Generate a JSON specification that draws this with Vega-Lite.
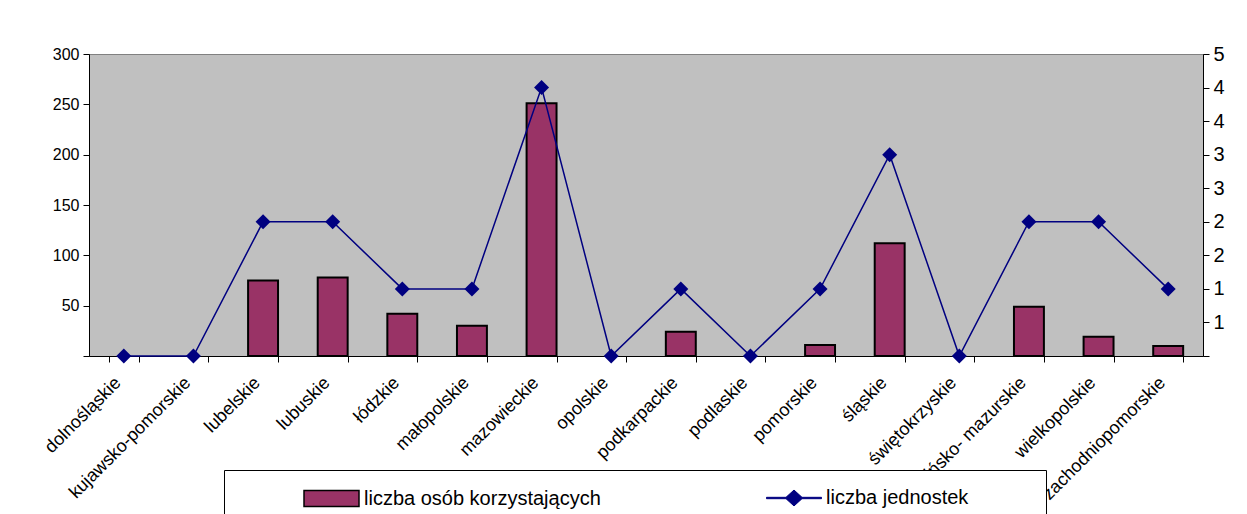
{
  "$schema": "https://vega.github.io/schema/vega-lite/v6.json",
  "width": 1114,
  "height": 302,
  "autosize": {"type": "none"},
  "padding": {"left": 89, "top": 54, "right": 44, "bottom": 158},
  "background": "white",
  "config": {
    "font": "Liberation Sans",
    "view": {"fill": "#c0c0c0", "stroke": "#808080", "strokeWidth": 1}
  },
  "data": {
    "values": [
      {"region": "dolnośląskie", "osoby": 0, "jednostki": 0},
      {"region": "kujawsko-pomorskie", "osoby": 0, "jednostki": 0},
      {"region": "lubelskie", "osoby": 75, "jednostki": 2},
      {"region": "lubuskie", "osoby": 78, "jednostki": 2},
      {"region": "łódzkie", "osoby": 42, "jednostki": 1},
      {"region": "małopolskie", "osoby": 30, "jednostki": 1},
      {"region": "mazowieckie", "osoby": 251, "jednostki": 4},
      {"region": "opolskie", "osoby": 0, "jednostki": 0},
      {"region": "podkarpackie", "osoby": 24, "jednostki": 1},
      {"region": "podlaskie", "osoby": 0, "jednostki": 0},
      {"region": "pomorskie", "osoby": 11, "jednostki": 1},
      {"region": "śląskie", "osoby": 112, "jednostki": 3},
      {"region": "świętokrzyskie", "osoby": 0, "jednostki": 0},
      {"region": "warmińsko- mazurskie", "osoby": 49, "jednostki": 2},
      {"region": "wielkopolskie", "osoby": 19, "jednostki": 2},
      {"region": "zachodniopomorskie", "osoby": 10, "jednostki": 1}
    ]
  },
  "encoding": {
    "x": {
      "field": "region",
      "type": "nominal",
      "sort": null,
      "scale": {
        "domain": ["dolnośląskie", "kujawsko-pomorskie", "lubelskie", "lubuskie", "łódzkie", "małopolskie", "mazowieckie", "opolskie", "podkarpackie", "podlaskie", "pomorskie", "śląskie", "świętokrzyskie", "warmińsko- mazurskie", "wielkopolskie", "zachodniopomorskie"],
        "paddingInner": 0.57,
        "paddingOuter": 0.285
      },
      "axis": {
        "title": null,
        "labelAngle": -45,
        "labelAlign": "right",
        "labelBaseline": "middle",
        "labelFontSize": 18,
        "labelColor": "black",
        "labelPadding": 18,
        "labelOffset": -6,
        "labelLimit": 300,
        "domainColor": "black",
        "tickColor": "black",
        "tickBand": "extent",
        "tickSize": 6
      }
    }
  },
  "layer": [
    {
      "transform": [{"filter": "datum.osoby > 0"}],
      "mark": {"type": "bar", "stroke": "black", "strokeWidth": 2},
      "encoding": {
        "y": {
          "field": "osoby",
          "type": "quantitative",
          "scale": {"domain": [0, 300], "nice": false},
          "axis": {
            "title": null,
            "values": [0, 50, 100, 150, 200, 250, 300],
            "labelExpr": "datum.value == 0 ? '' : datum.label",
            "labelFontSize": 16,
            "labelColor": "black",
            "labelPadding": 4,
            "domainColor": "black",
            "tickColor": "black",
            "tickSize": 6,
            "grid": false
          }
        },
        "color": {
          "datum": "liczba osób korzystających",
          "type": "nominal",
          "scale": {"domain": ["liczba osób korzystających"], "range": ["#993366"]},
          "legend": {
            "orient": "none",
            "legendX": 135,
            "legendY": 416,
            "direction": "horizontal",
            "title": " ",
            "titleOrient": "left",
            "titlePadding": 79,
            "titleFontSize": 18,
            "padding": 0,
            "strokeColor": "black",
            "fillColor": "white",
            "labelFontSize": 20,
            "labelColor": "black",
            "labelLimit": 1000,
            "labelOffset": 4,
            "labelExpr": "datum.label + '                                                                                \u200b'",
            "symbolSize": 3025,
            "symbolType": "M-1,-0.29H1V0.29H-1Z M0,1.6L0,1.6",
            "symbolStrokeColor": "black",
            "symbolStrokeWidth": 1.5,
            "symbolOpacity": 1
          }
        }
      }
    },
    {
      "mark": {
        "type": "line",
        "strokeWidth": 1.5,
        "point": {"shape": "diamond", "size": 225, "filled": true, "opacity": 1}
      },
      "encoding": {
        "y": {
          "field": "jednostki",
          "type": "quantitative",
          "scale": {"domain": [0, 4.5], "nice": false},
          "axis": {
            "orient": "right",
            "title": null,
            "values": [0, 0.5, 1, 1.5, 2, 2.5, 3, 3.5, 4, 4.5],
            "labelExpr": "datum.value == 0 ? '' : '' + round(datum.value)",
            "labelFontSize": 20,
            "labelColor": "black",
            "labelPadding": 4,
            "domainColor": "black",
            "tickColor": "black",
            "tickSize": 6,
            "grid": false
          }
        },
        "color": {
          "datum": "liczba jednostek",
          "type": "nominal",
          "scale": {"domain": ["liczba jednostek"], "range": ["#000080"]},
          "legend": {
            "orient": "none",
            "legendX": 677,
            "legendY": 416,
            "direction": "horizontal",
            "title": null,
            "padding": 0,
            "labelFontSize": 20,
            "labelColor": "black",
            "labelLimit": 500,
            "labelOffset": 4,
            "symbolSize": 3025,
            "symbolType": "M-1,-0.025H-0.29L0,-0.29L0.29,-0.025H1V0.025H0.29L0,0.29L-0.29,0.025H-1Z",
            "symbolFillColor": "#000080",
            "symbolStrokeWidth": 1,
            "symbolOpacity": 1
          }
        }
      }
    }
  ],
  "resolve": {"scale": {"y": "independent", "color": "independent"}, "legend": {"color": "independent"}}
}
